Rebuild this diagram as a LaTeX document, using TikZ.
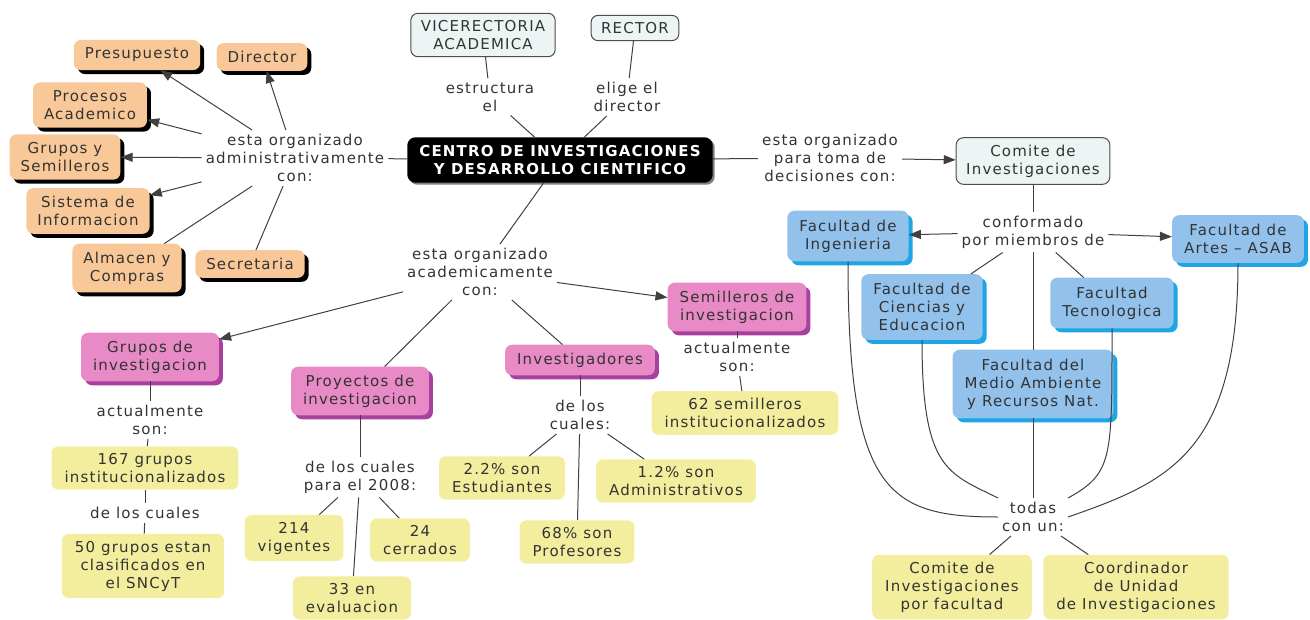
\documentclass[tikz,border=0pt]{standalone}
\usepackage{fontspec}
\setmainfont{DejaVu Sans}[LetterSpace=8]
\usepackage{xcolor}
\usepackage{tikz}
\usetikzlibrary{arrows.meta, shadows}
\definecolor{naranja}{HTML}{F8C898}
\definecolor{rosa}{HTML}{E78AC5}
\definecolor{morado}{HTML}{A8409F}
\definecolor{amarillo}{HTML}{F3EE9E}
\definecolor{azul}{HTML}{92C1EC}
\definecolor{celeste}{HTML}{1EA5E3}
\definecolor{claro}{HTML}{EDF4F4}
\tikzset{every node/.style={font=\fontsize{15}{18}\selectfont, text=black!80, align=center},
  lbl/.style={inner sep=4pt},
  admbox/.style={fill=naranja, rounded corners=7pt, inner xsep=11pt, inner ysep=8pt,
    drop shadow={shadow xshift=4pt, shadow yshift=-4pt, fill=black, opacity=1}},
  acabox/.style={fill=rosa, rounded corners=7pt, inner xsep=12pt, inner ysep=8pt,
    drop shadow={shadow xshift=4pt, shadow yshift=-4pt, fill=morado, opacity=1}},
  facbox/.style={fill=azul, rounded corners=7pt, inner xsep=12pt, inner ysep=9pt,
    drop shadow={shadow xshift=4pt, shadow yshift=-4pt, fill=celeste, opacity=1}},
  datobox/.style={fill=amarillo, rounded corners=7pt, inner xsep=13pt, inner ysep=7pt},
  topbox/.style={fill=claro, draw=black!70, line width=1pt, rounded corners=7pt, inner xsep=10pt, inner ysep=7pt},
  centrobox/.style={fill=black, text=white, font=\fontsize{15}{18}\selectfont\bfseries, rounded corners=8pt,
    inner xsep=12pt, inner ysep=8pt, drop shadow={shadow xshift=2pt, shadow yshift=-2pt, fill=black!50, opacity=1}},
  lnk/.style={draw=black!75, line width=1pt},
  flecha/.style={lnk, -{Triangle[length=12pt,width=9pt]}}}

\begin{document}
\begin{tikzpicture}[x=1pt, y=-1pt]
  \useasboundingbox (0,0) rectangle (1310,619);

  % administrativo
  \node[admbox] (presup) at (137,55) {Presupuesto};
  \node[admbox] (director) at (262,57) {Director};
  \node[admbox] (procesos) at (90,105) {Procesos\\Academico};
  \node[admbox] (gruposem) at (65,157) {Grupos y\\Semilleros};
  \node[admbox] (sistema) at (88,211) {Sistema de\\Informacion};
  \node[admbox] (almacen) at (127,268) {Almacen y\\Compras};
  \node[admbox] (secre) at (250,264) {Secretaria};
  \node[lbl] (lbladm) at (295,158) {esta organizado\\administrativamente\\con:};

  \node[topbox] (vice) at (483,35) {VICERECTORIA\\ACADEMICA};
  \node[topbox] (rector) at (635,28) {RECTOR};
  \node[lbl] (lblestr) at (490,97) {estructura\\el};
  \node[lbl] (lbleli) at (627,97) {elige el\\director};
  \node[centrobox] (centro) at (560,160) {CENTRO DE INVESTIGACIONES\\Y DESARROLLO CIENTIFICO};

  % comite y facultades
  \node[lbl] (lbltoma) at (830,158) {esta organizado\\para toma de\\decisiones con:};
  \node[topbox] (comite) at (1033,161) {Comite de\\Investigaciones};
  \node[lbl] (lblconf) at (1033,232) {conformado\\por miembros de};
  \node[facbox] (fing) at (848,236) {Facultad de\\Ingenieria};
  \node[facbox] (fartes) at (1238,239) {Facultad de\\Artes – ASAB};
  \node[facbox] (fcien) at (922,307) {Facultad de\\Ciencias y\\Educacion};
  \node[facbox] (ftec) at (1112,303) {Facultad\\Tecnologica};
  \node[facbox] (fmedio) at (1033,384) {Facultad del\\Medio Ambiente\\y Recursos Nat.};
  \node[lbl] (lbltodas) at (1033,517) {todas\\con un:};
  \node[datobox] (cfac) at (952,587) {Comite de\\Investigaciones\\por facultad};
  \node[datobox] (coord) at (1136,587) {Coordinador\\de Unidad\\de Investigaciones};

  % academico
  \node[lbl] (lblaca) at (480,272) {esta organizado\\academicamente\\con:};
  \node[acabox] (gruposinv) at (150,357) {Grupos de\\investigacion};
  \node[acabox] (proy) at (360,391) {Proyectos de\\investigacion};
  \node[acabox] (invest) at (580,360) {Investigadores};
  \node[acabox] (semill) at (737,307) {Semilleros de\\investigacion};
  \node[lbl] (lblact1) at (150,420) {actualmente\\son:};
  \node[datobox] (n167) at (145,468) {167 grupos\\institucionalizados};
  \node[lbl] (lblcual1) at (145,513) {de los cuales};
  \node[datobox] (n50) at (143,566) {50 grupos estan\\clasificados en\\el SNCyT};
  \node[lbl] (lblproy) at (360,477) {de los cuales\\para el 2008:};
  \node[datobox] (n214) at (294,538) {214\\vigentes};
  \node[datobox] (n24) at (420,540) {24\\cerrados};
  \node[datobox] (n33) at (352,598) {33 en\\evaluacion};
  \node[lbl] (lblinv) at (580,415) {de los\\cuales:};
  \node[datobox] (n22) at (502,478) {2.2\% son\\Estudiantes};
  \node[datobox] (n12) at (676,481) {1.2\% son\\Administrativos};
  \node[datobox] (n68) at (577,542) {68\% son\\Profesores};
  \node[lbl] (lblact2) at (737,357) {actualmente\\son:};
  \node[datobox] (n62) at (745,413) {62 semilleros\\institucionalizados};

  \draw[lnk](centro)--(lbladm);
  \draw[flecha](lbladm)--(presup);
  \draw[flecha](lbladm)--(director);
  \draw[flecha](lbladm)--(procesos);
  \draw[flecha](lbladm)--(gruposem);
  \draw[flecha](lbladm)--(sistema);
  \draw[lnk](lbladm)--(almacen);
  \draw[lnk](lbladm)--(secre);

  \draw[lnk](vice)--(lblestr);
  \draw[lnk](lblestr)--(centro);
  \draw[lnk](rector)--(lbleli);
  \draw[lnk](lbleli)--(centro);

  \draw[lnk](centro)--(lbltoma);
  \draw[flecha](lbltoma)--(comite);
  \draw[lnk](comite)--(lblconf);
  \draw[flecha](lblconf)--(fing);
  \draw[flecha](lblconf)--(fartes);
  \draw[lnk](lblconf)--(fcien);
  \draw[lnk](lblconf)--(ftec);
  \draw[lnk](lblconf)--(fmedio);
  \draw[lnk](fing.south) .. controls +(0,230) and +(-110,0) .. (lbltodas.west);
  \draw[lnk](fcien.south) .. controls +(0,130) and +(-50,-25) .. (lbltodas.north west);
  \draw[lnk](fmedio)--(lbltodas);
  \draw[lnk](ftec.south) .. controls +(0,130) and +(45,-25) .. (lbltodas.north east);
  \draw[lnk](fartes.south) .. controls +(0,190) and +(100,-35) .. (lbltodas.east);
  \draw[lnk](lbltodas)--(cfac);
  \draw[lnk](lbltodas)--(coord);

  \draw[lnk](centro)--(lblaca);
  \draw[flecha](lblaca)--(gruposinv);
  \draw[flecha](lblaca)--(semill);
  \draw[lnk](lblaca)--(proy);
  \draw[lnk](lblaca)--(invest);
  \draw[lnk](gruposinv)--(lblact1);
  \draw[lnk](lblact1)--(n167);
  \draw[lnk](n167)--(lblcual1);
  \draw[lnk](lblcual1)--(n50);
  \draw[lnk](proy)--(lblproy);
  \draw[lnk](lblproy)--(n214);
  \draw[lnk](lblproy)--(n24);
  \draw[lnk](lblproy)--(n33);
  \draw[lnk](invest)--(lblinv);
  \draw[lnk](lblinv)--(n22);
  \draw[lnk](lblinv)--(n68);
  \draw[lnk](lblinv)--(n12);
  \draw[lnk](semill)--(lblact2);
  \draw[lnk](lblact2)--(n62);
\end{tikzpicture}
\end{document}
